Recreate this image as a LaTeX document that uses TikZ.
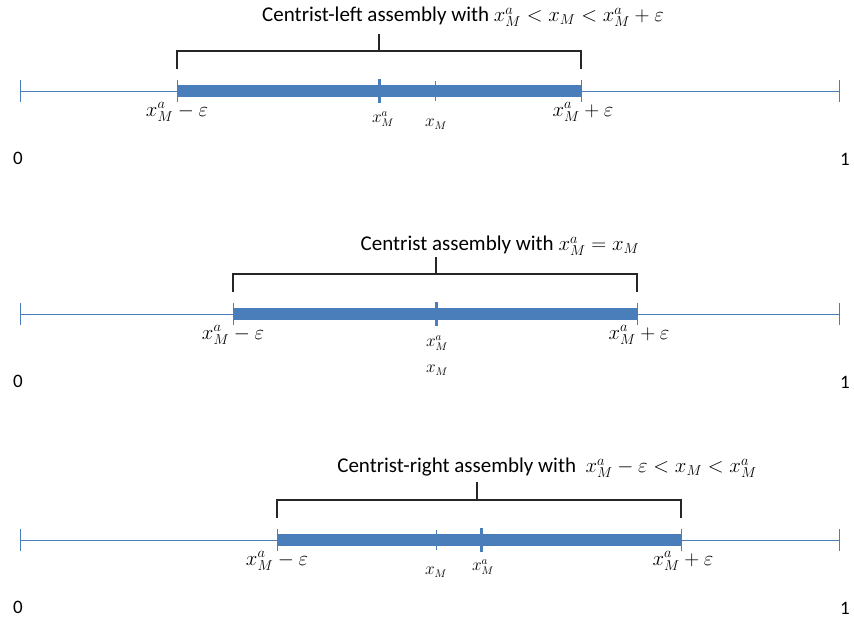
\documentclass[tikz,border=0pt]{standalone}
\usepackage{fontspec}
\setmainfont{Carlito}
\definecolor{axisblue}{HTML}{4A7EBB}
\begin{document}
\begin{tikzpicture}[x=1pt,y=-1pt,
  axis/.style={draw=axisblue,line width=1pt},
  barline/.style={draw=axisblue,line width=12pt},
  endtick/.style={draw=axisblue,line width=1pt},
  atick/.style={draw=axisblue,line width=3pt},
  brk/.style={draw=black!85,line width=1.1pt},
  title/.style={font=\fontsize{21}{24}\selectfont,inner sep=0pt},
  lab/.style={font=\fontsize{20}{24}\selectfont,inner sep=0pt},
  slab/.style={font=\fontsize{16}{18}\selectfont,inner sep=0pt},
  num/.style={font=\fontsize{19}{22}\selectfont,inner sep=0pt}]
\useasboundingbox (0,0) rectangle (854,624);

\foreach \p/\ly/\a/\b/\xa/\xm in {A/91/177/581/379/435, B/314/233/637/436/436, C/540/277/681/481/436}{
  \coordinate (\p l) at (20,\ly);
  \coordinate (\p r) at (839,\ly);
  \coordinate (\p a) at (\a,\ly);
  \coordinate (\p b) at (\b,\ly);
  \draw[axis] (\p l) -- (\p r);
  \draw[barline] (\p a) -- (\p b);
  \draw[endtick] ([yshift=11]\p l) -- ([yshift=-11]\p l);
  \draw[endtick] ([yshift=11]\p r) -- ([yshift=-11]\p r);
  \draw[endtick] ([yshift=11]\p a) -- ([yshift=-11]\p a);
  \draw[endtick] ([yshift=11]\p b) -- ([yshift=-11]\p b);
  \coordinate (\p xa) at (\xa,\ly);
  \coordinate (\p xm) at (\xm,\ly);
  \draw[atick] ([yshift=12]\p xa) -- ([yshift=-12]\p xa);
  \draw[endtick] ([yshift=10]\p xm) -- ([yshift=-10]\p xm);
  % bracket
  \draw[brk] ([yshift=22]\p a) -- ([yshift=40]\p a) -- ([yshift=40]\p b) -- ([yshift=22]\p b);
  % labels
  \node[lab] at ([yshift=-21]\p a) {$x_M^a-\varepsilon$};
  \node[lab] at ([xshift=2,yshift=-21]\p b) {$x_M^a+\varepsilon$};
  \node[num] at ([xshift=-2,yshift=-67]\p l) {0};
  \node[num] at ([xshift=6,yshift=-68]\p r) {1};
}

% stubs
\coordinate (As) at (379,34); \coordinate (Asb) at (379,52);
\draw[brk] (As) -- (Asb);
\coordinate (Bs) at (436,257); \coordinate (Bsb) at (436,274);
\draw[brk] (Bs) -- (Bsb);
\coordinate (Cs) at (477,482); \coordinate (Csb) at (477,499);
\draw[brk] (Cs) -- (Csb);

% titles
\node[title] (tA) at (463,17) {Centrist-left assembly with {\fontsize{20}{24}\selectfont$x_M^a<x_M<x_M^a+\varepsilon$}};
\node[title] (tB) at (500,246) {Centrist assembly with {\fontsize{20}{24}\selectfont$x_M^a=x_M$}};
\node[title] (tC) at (547,468) {Centrist-right assembly with \ {\fontsize{20}{24}\selectfont$x_M^a-\varepsilon<x_M<x_M^a$}};

% small tick labels
\node[slab] at (383,119) {$x_M^a$};
\node[slab] at (436,124) {$x_M$};
\node[slab] at (437,343) {$x_M^a$};
\node[slab] at (437,370) {$x_M$};
\node[slab] at (436,572) {$x_M$};
\node[slab] at (483,567) {$x_M^a$};
\end{tikzpicture}
\end{document}
